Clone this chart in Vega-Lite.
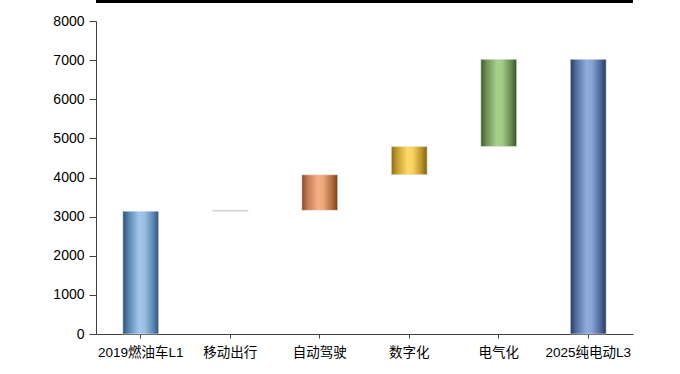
{
  "$schema": "https://vega.github.io/schema/vega-lite/v6.json",
  "width": 537,
  "height": 313,
  "autosize": {"type": "none"},
  "padding": {"left": 96, "top": 21, "right": 47, "bottom": 40},
  "background": "white",
  "config": {
    "view": {"stroke": null},
    "font": "Liberation Sans, Noto Sans CJK SC",
    "axis": {"grid": false, "domainColor": "#404040", "tickColor": "#404040", "labelColor": "#000000", "labelFont": "Liberation Sans, Noto Sans CJK SC"}
  },
  "data": {"values": [
    {"cat": "2019燃油车L1", "start": 0, "end": 3140},
    {"cat": "移动出行", "start": 3140, "end": 3165},
    {"cat": "自动驾驶", "start": 3160, "end": 4070},
    {"cat": "数字化", "start": 4070, "end": 4790},
    {"cat": "电气化", "start": 4790, "end": 7020},
    {"cat": "2025纯电动L3", "start": 0, "end": 7020}
  ]},
  "resolve": {"scale": {"y": "independent"}, "axis": {"y": "independent"}},
  "layer": [
    {
      "mark": {"type": "bar", "stroke": "#e8e8e8", "strokeWidth": 0.6},
      "encoding": {
        "x": {"field": "cat", "type": "nominal", "sort": null, "title": null,
              "scale": {"paddingInner": 0.6, "paddingOuter": 0.3},
              "axis": {"labelAngle": 0, "tickSize": 4, "labelPadding": 7, "domainWidth": 1, "labelFontSize": 13.5}},
        "y": {"field": "start", "type": "quantitative", "title": null,
              "scale": {"domain": [0, 8000], "nice": false},
              "axis": {"values": [0,1000,2000,3000,4000,5000,6000,7000,8000], "format": "d", "labelFontSize": 14, "tickSize": 7, "labelPadding": 5, "labelOverlap": false}},
        "y2": {"field": "end"},
        "fill": {
          "condition": [
            {"test": "datum.cat === '2019燃油车L1'", "value": {"gradient": "linear", "x1": 0, "x2": 1, "y1": 0, "y2": 0, "stops": [{"offset": 0, "color": "#2a4e78"}, {"offset": 0.15, "color": "#5582b0"}, {"offset": 0.45, "color": "#a3c7eb"}, {"offset": 0.6, "color": "#9cc0e4"}, {"offset": 0.85, "color": "#5a86b3"}, {"offset": 1, "color": "#2c5380"}]}},
            {"test": "datum.cat === '移动出行'", "value": "#a8a8a8"},
            {"test": "datum.cat === '自动驾驶'", "value": {"gradient": "linear", "x1": 0, "x2": 1, "y1": 0, "y2": 0, "stops": [{"offset": 0, "color": "#8a4520"}, {"offset": 0.15, "color": "#c17850"}, {"offset": 0.45, "color": "#f4b183"}, {"offset": 0.6, "color": "#eca779"}, {"offset": 0.85, "color": "#b06a3c"}, {"offset": 1, "color": "#7c3d18"}]}},
            {"test": "datum.cat === '数字化'", "value": {"gradient": "linear", "x1": 0, "x2": 1, "y1": 0, "y2": 0, "stops": [{"offset": 0, "color": "#8a6b12"}, {"offset": 0.15, "color": "#bf9a30"}, {"offset": 0.45, "color": "#ffd966"}, {"offset": 0.6, "color": "#f8d260"}, {"offset": 0.85, "color": "#b8922a"}, {"offset": 1, "color": "#7c5f0e"}]}},
            {"test": "datum.cat === '电气化'", "value": {"gradient": "linear", "x1": 0, "x2": 1, "y1": 0, "y2": 0, "stops": [{"offset": 0, "color": "#3d5a29"}, {"offset": 0.15, "color": "#6c8f54"}, {"offset": 0.45, "color": "#a9d18e"}, {"offset": 0.6, "color": "#a2ca88"}, {"offset": 0.85, "color": "#66884f"}, {"offset": 1, "color": "#385424"}]}}
          ],
          "value": {"gradient": "linear", "x1": 0, "x2": 1, "y1": 0, "y2": 0, "stops": [{"offset": 0, "color": "#233a66"}, {"offset": 0.15, "color": "#4f6a9c"}, {"offset": 0.45, "color": "#8faadc"}, {"offset": 0.6, "color": "#88a3d5"}, {"offset": 0.85, "color": "#4c6696"}, {"offset": 1, "color": "#22385f"}]}
        }
      }
    },
    {
      "mark": {"type": "rule", "stroke": "#000000", "strokeWidth": 3, "clip": false},
      "encoding": {"y": {"datum": 8510, "scale": {"domain": [0, 8000], "nice": false}, "axis": null}}
    }
  ]
}
